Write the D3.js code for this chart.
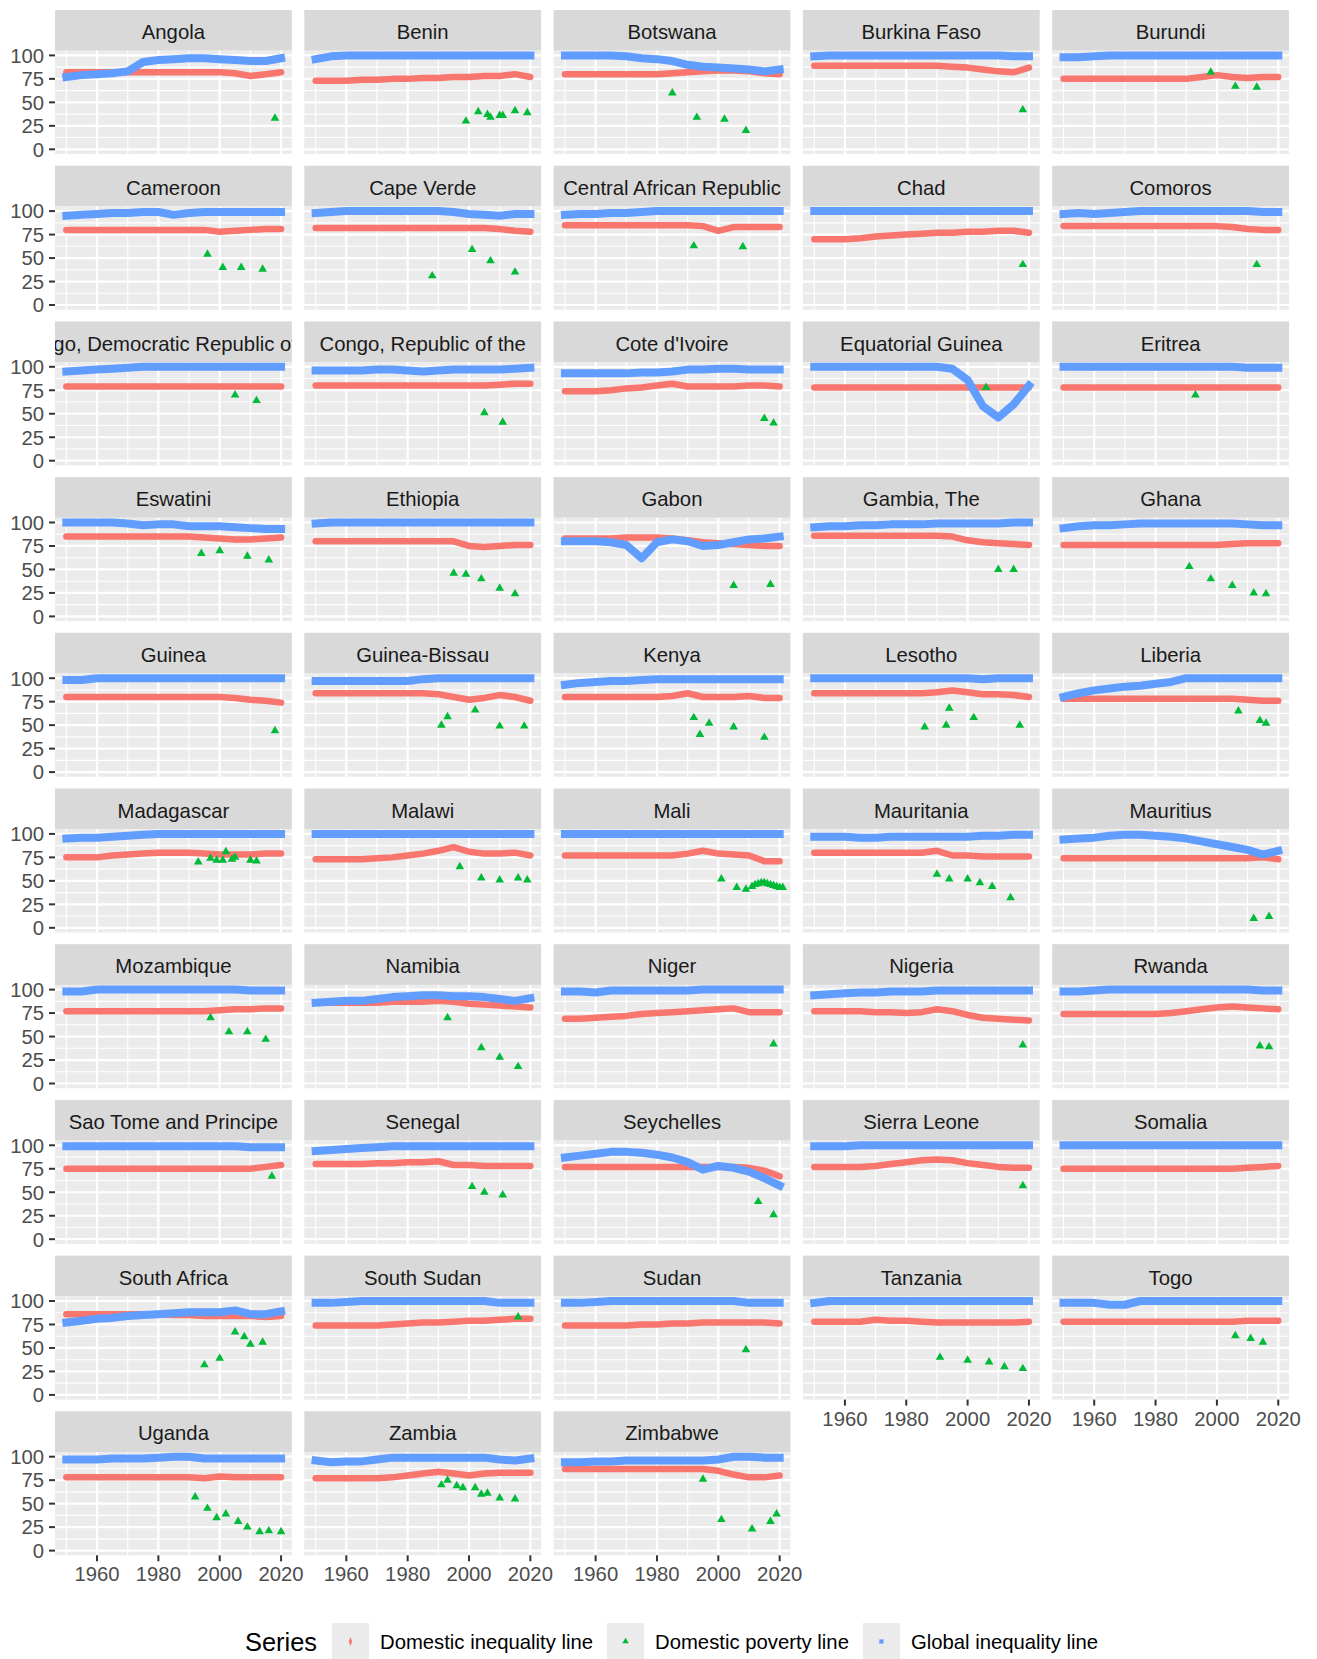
<!DOCTYPE html>
<html>
<head>
<meta charset="utf-8">
<script src="https://cdn.jsdelivr.net/npm/d3@7"></script>
<style>
  body { margin: 0; background: #fff; }
  svg text { font-family: "Liberation Sans", Arial, sans-serif; }
</style>
</head>
<body>
<div id="chart"></div>
<script>
// sampled every 5 years
var years = [1950,1955,1960,1965,1970,1975,1980,1985,1990,1995,2000,2005,2010,2015,2020];

var countries = ["Angola","Benin","Botswana","Burkina Faso","Burundi",
  "Cameroon","Cape Verde","Central African Republic","Chad","Comoros",
  "Congo, Democratic Republic of the","Congo, Republic of the","Cote d'Ivoire","Equatorial Guinea","Eritrea",
  "Eswatini","Ethiopia","Gabon","Gambia, The","Ghana",
  "Guinea","Guinea-Bissau","Kenya","Lesotho","Liberia",
  "Madagascar","Malawi","Mali","Mauritania","Mauritius",
  "Mozambique","Namibia","Niger","Nigeria","Rwanda",
  "Sao Tome and Principe","Senegal","Seychelles","Sierra Leone","Somalia",
  "South Africa","South Sudan","Sudan","Tanzania","Togo",
  "Uganda","Zambia","Zimbabwe"];

// Global inequality line, one row per country
var globalIneq = [
  [77,79,80,81,83,93,95,96,97,97,96,95,94,94,97],
  [96,99,100,100,100,100,100,100,100,100,100,100,100,100,100],
  [100,100,100,100,99,97,96,94,90,88,87,86,85,83,85],
  [99,100,100,100,100,100,100,100,100,100,100,100,100,99,99],
  [98,98,99,100,100,100,100,100,100,100,100,100,100,100,100],
  [95,96,97,98,98,99,99,96,98,99,99,99,99,99,99],
  [98,99,100,100,100,100,100,100,100,99,97,96,95,97,97],
  [96,97,97,98,98,99,100,100,100,100,100,100,100,100,100],
  [100,100,100,100,100,100,100,100,100,100,100,100,100,100,100],
  [97,98,97,98,99,100,100,100,100,100,100,100,100,99,99],
  [95,96,97,98,99,100,100,100,100,100,100,100,100,100,100],
  [96,96,96,96,97,97,96,95,96,97,97,97,97,98,99],
  [93,93,93,93,93,94,94,95,97,97,98,98,97,97,97],
  [100,100,100,100,100,100,100,100,100,98,86,58,46,60,80],
  [100,100,100,100,100,100,100,100,100,100,100,100,99,99,99],
  [100,100,100,100,99,97,98,98,96,96,96,95,94,93,93],
  [99,100,100,100,100,100,100,100,100,100,100,100,100,100,100],
  [80,80,80,79,76,62,79,82,80,75,76,79,82,83,85],
  [95,96,96,97,97,98,98,98,99,99,99,99,99,100,100],
  [94,96,97,97,98,99,99,99,99,99,99,99,98,97,97],
  [98,98,100,100,100,100,100,100,100,100,100,100,100,100,100],
  [97,97,97,97,97,97,97,99,100,100,100,100,100,100,100],
  [93,95,96,97,97,98,99,99,99,99,99,99,99,99,99],
  [100,100,100,100,100,100,100,100,100,100,100,99,100,100,100],
  [80,84,87,89,91,92,94,96,100,100,100,100,100,100,100],
  [95,96,96,97,98,99,100,100,100,100,100,100,100,100,100],
  [100,100,100,100,100,100,100,100,100,100,100,100,100,100,100],
  [100,100,100,100,100,100,100,100,100,100,100,100,100,100,100],
  [97,97,97,96,96,97,97,97,97,97,97,98,98,99,99],
  [94,95,96,98,99,99,98,97,95,92,89,86,83,78,82],
  [98,98,100,100,100,100,100,100,100,100,100,100,99,99,99],
  [86,87,88,88,90,92,93,94,94,93,93,92,90,88,91],
  [98,98,97,99,99,99,99,99,99,100,100,100,100,100,100],
  [94,95,96,97,97,98,98,98,99,99,99,99,99,99,99],
  [98,98,99,100,100,100,100,100,100,100,100,100,100,99,99],
  [99,99,99,99,99,99,99,99,99,99,99,99,98,98,98],
  [94,95,96,97,98,99,99,99,99,99,99,99,99,99,99],
  [87,89,91,93,93,92,90,87,82,74,78,76,72,65,57],
  [99,99,99,100,100,100,100,100,100,100,100,100,100,100,100],
  [100,100,100,100,100,100,100,100,100,100,100,100,100,100,100],
  [77,79,81,82,84,85,86,87,88,88,88,90,86,86,89],
  [98,98,99,100,100,100,100,100,100,100,100,100,98,98,98],
  [98,98,99,100,100,100,100,100,100,100,100,100,98,98,98],
  [98,100,100,100,100,100,100,100,100,100,100,100,100,100,100],
  [98,98,98,96,96,100,100,100,100,100,100,100,100,100,100],
  [97,97,97,98,98,98,99,100,100,98,98,98,98,98,98],
  [96,94,95,95,97,99,99,99,99,99,99,99,97,96,98],
  [94,94,95,95,96,96,96,96,96,96,97,100,100,99,99]
];

// Domestic inequality line
var domesticIneq = [
  [82,82,82,82,82,82,82,82,82,82,82,81,78,80,82],
  [73,73,73,74,74,75,75,76,76,77,77,78,78,80,77],
  [80,80,80,80,80,80,80,81,82,83,84,84,83,81,80],
  [89,89,89,89,89,89,89,89,89,88,87,85,83,82,87],
  [75,75,75,75,75,75,75,75,75,77,79,77,76,77,77],
  [80,80,80,80,80,80,80,80,80,80,78,79,80,81,81],
  [82,82,82,82,82,82,82,82,82,82,82,82,81,79,78],
  [85,85,85,85,85,85,85,85,85,84,79,83,83,83,83],
  [70,70,70,71,73,74,75,76,77,77,78,78,79,79,77],
  [84,84,84,84,84,84,84,84,84,84,84,83,81,80,80],
  [79,79,79,79,79,79,79,79,79,79,79,79,79,79,79],
  [80,80,80,80,80,80,80,80,80,80,80,80,81,82,82],
  [74,74,74,75,77,78,80,82,79,79,79,79,80,80,79],
  [78,78,78,78,78,78,78,78,78,78,78,78,78,78,78],
  [78,78,78,78,78,78,78,78,78,78,78,78,78,78,78],
  [85,85,85,85,85,85,85,85,85,84,83,82,82,83,84],
  [80,80,80,80,80,80,80,80,80,80,75,74,75,76,76],
  [83,83,83,83,84,84,84,83,81,79,78,77,76,75,75],
  [86,86,86,86,86,86,86,86,86,85,81,79,78,77,76],
  [76,76,76,76,76,76,76,76,76,76,76,77,78,78,78],
  [80,80,80,80,80,80,80,80,80,80,80,79,77,76,74],
  [84,84,84,84,84,84,84,84,83,80,77,79,82,80,76],
  [80,80,80,80,80,80,80,81,84,80,80,80,81,79,79],
  [84,84,84,84,84,84,84,84,85,87,85,83,83,82,80],
  [78,78,78,78,78,78,78,78,78,78,78,78,77,76,76],
  [75,75,75,77,78,79,80,80,80,79,78,78,78,79,79],
  [73,73,73,73,74,75,77,79,82,86,81,79,79,80,77],
  [77,77,77,77,77,77,77,77,79,82,79,78,77,71,71],
  [80,80,80,80,80,80,80,80,82,77,77,76,76,76,76],
  [74,74,74,74,74,74,74,74,74,74,74,74,74,75,73],
  [77,77,77,77,77,77,77,77,77,77,78,79,79,80,80],
  [86,86,86,86,86,87,87,87,88,87,85,84,83,82,81],
  [69,69,70,71,72,74,75,76,77,78,79,80,76,76,76],
  [77,77,77,77,76,76,75,76,79,77,73,70,69,68,67],
  [74,74,74,74,74,74,74,75,77,79,81,82,81,80,79],
  [75,75,75,75,75,75,75,75,75,75,75,75,75,77,79],
  [80,80,80,80,81,81,82,82,83,79,79,78,78,78,78],
  [77,77,77,77,77,77,77,77,77,77,77,77,76,73,67],
  [77,77,77,77,78,80,82,84,85,84,81,79,77,76,76],
  [75,75,75,75,75,75,75,75,75,75,75,75,76,77,78],
  [86,86,86,86,86,86,86,85,85,84,84,84,84,83,84],
  [74,74,74,74,74,75,76,77,77,78,79,79,80,81,81],
  [74,74,74,74,74,75,75,76,76,77,77,77,77,77,76],
  [78,78,78,78,80,79,79,78,77,77,77,77,77,77,78],
  [78,78,78,78,78,78,78,78,78,78,78,78,79,79,79],
  [78,78,78,78,78,78,78,78,78,77,79,78,78,78,78],
  [77,77,77,77,77,78,80,82,84,82,80,82,83,83,83],
  [87,87,87,87,87,87,87,87,87,87,85,81,78,78,80]
];

// Domestic poverty line: [year, value] survey points
var povertyPoints = [
  [[2018,33]],
  [[1999,30],[2003,40],[2006,37],[2007,34],[2010,36],[2011,36],[2015,41],[2019,39]],
  [[1985,60],[1993,34],[2002,32],[2009,20]],
  [[2018,42]],
  [[1998,82],[2006,67],[2013,66]],
  [[1996,54],[2001,40],[2007,40],[2014,38]],
  [[1988,31],[2001,59],[2007,47],[2015,35]],
  [[1992,63],[2008,62]],
  [[2018,43]],
  [[2013,43]],
  [[2005,70],[2012,64]],
  [[2005,51],[2011,41]],
  [[2015,45],[2018,40]],
  [[2006,78]],
  [[1993,70]],
  [[1994,67],[2000,70],[2009,64],[2016,60]],
  [[1995,46],[1999,45],[2004,40],[2010,30],[2015,24]],
  [[2005,33],[2017,34]],
  [[2010,50],[2015,50]],
  [[1991,53],[1998,40],[2005,33],[2012,25],[2016,24]],
  [[2018,44]],
  [[1991,50],[1993,59],[2002,66],[2010,49],[2018,49]],
  [[1992,58],[1994,40],[1997,52],[2005,48],[2015,37]],
  [[1986,48],[1993,50],[1994,68],[2002,58],[2017,50]],
  [[2007,65],[2014,55],[2016,52]],
  [[1993,70],[1997,74],[1999,72],[2001,72],[2002,81],[2004,73],[2005,75],[2010,72],[2012,71]],
  [[1997,65],[2004,53],[2010,51],[2016,53],[2019,51]],
  [[2001,52],[2006,43],[2009,41],[2011,44],[2012,46],[2013,47],[2014,48],[2015,48],[2016,47],[2017,46],[2018,45],[2019,44],[2020,43],[2021,43]],
  [[1990,57],[1994,52],[2000,52],[2004,48],[2008,44],[2014,32]],
  [[2012,10],[2017,12]],
  [[1997,70],[2003,55],[2009,55],[2015,47]],
  [[1993,70],[2004,38],[2010,28],[2016,18]],
  [[2018,42]],
  [[2018,41]],
  [[2014,40],[2017,39]],
  [[2017,67]],
  [[2001,56],[2005,50],[2011,47]],
  [[2013,40],[2018,26]],
  [[2018,57]],
  [],
  [[1995,32],[2000,39],[2005,67],[2008,62],[2010,54],[2014,56]],
  [[2016,83]],
  [[2009,48]],
  [[1991,40],[2000,37],[2007,35],[2012,30],[2018,28]],
  [[2006,63],[2011,60],[2015,56]],
  [[1992,57],[1996,45],[1999,35],[2002,39],[2006,31],[2009,25],[2013,20],[2016,21],[2020,20]],
  [[1991,70],[1993,75],[1996,69],[1998,67],[2002,67],[2004,60],[2006,61],[2010,56],[2015,55]],
  [[1995,76],[2001,33],[2011,23],[2017,31],[2019,39]]
];

var yTicks = [0,25,50,75,100];
var yMinor = [12.5,37.5,62.5,87.5];
var xTicks = [1960,1980,2000,2020];
var xMinor = [1950,1970,1990,2010];
var seriesNames = ["Domestic inequality line","Domestic poverty line","Global inequality line"];
var seriesColors = ["#F8766D","#00BA38","#619CFF"];

var W = 1317, H = 1659;
var left = 55, top0 = 10;
var panelW = 236.8, colStep = 249.3, rowStep = 155.7;
var stripH = 40.7, panelH = 103.3;
var nCols = 5;
var fs = 20.3;

var svg = d3.select("#chart").append("svg")
  .attr("width", W)
  .attr("height", H);

svg.append("rect").attr("width", W).attr("height", H).attr("fill", "white");

var x = d3.scaleLinear().domain([1946.3, 2023.5]).range([0, panelW]);
var y = d3.scaleLinear().domain([-5, 105]).range([panelH, 0]);

var line = d3.line()
  .x(function(d){ return x(d[0]); })
  .y(function(d){ return y(d[1]); });

countries.forEach(function(name, i) {
  var col = i % nCols, row = Math.floor(i / nCols);
  var g = svg.append("g")
    .attr("transform", "translate(" + (left + col * colStep) + "," + (top0 + row * rowStep) + ")");

  // strip
  g.append("clipPath").attr("id", "sclip" + i)
    .append("rect").attr("width", panelW).attr("height", stripH);
  g.append("rect")
    .attr("width", panelW).attr("height", stripH)
    .attr("fill", "#D9D9D9");
  g.append("text")
    .attr("clip-path", "url(#sclip" + i + ")")
    .attr("x", panelW / 2).attr("y", stripH / 2 + 1.5)
    .attr("dy", "0.36em")
    .attr("text-anchor", "middle")
    .attr("font-size", fs)
    .attr("fill", "#1A1A1A")
    .text(name);

  // panel
  var p = g.append("g").attr("transform", "translate(0," + stripH + ")");
  p.append("clipPath").attr("id", "pclip" + i)
    .append("rect").attr("width", panelW).attr("height", panelH);
  p.append("rect")
    .attr("width", panelW).attr("height", panelH)
    .attr("fill", "#EBEBEB");

  p.selectAll(".ymin").data(yMinor).enter().append("line")
    .attr("x1", 0).attr("x2", panelW)
    .attr("y1", function(d){ return y(d); }).attr("y2", function(d){ return y(d); })
    .attr("stroke", "white").attr("stroke-width", 1.1);
  p.selectAll(".xmin").data(xMinor).enter().append("line")
    .attr("y1", 0).attr("y2", panelH)
    .attr("x1", function(d){ return x(d); }).attr("x2", function(d){ return x(d); })
    .attr("stroke", "white").attr("stroke-width", 1.1);
  p.selectAll(".ymaj").data(yTicks).enter().append("line")
    .attr("x1", 0).attr("x2", panelW)
    .attr("y1", function(d){ return y(d); }).attr("y2", function(d){ return y(d); })
    .attr("stroke", "white").attr("stroke-width", 2.2);
  p.selectAll(".xmaj").data(xTicks).enter().append("line")
    .attr("y1", 0).attr("y2", panelH)
    .attr("x1", function(d){ return x(d); }).attr("x2", function(d){ return x(d); })
    .attr("stroke", "white").attr("stroke-width", 2.2);

  var marks = p.append("g").attr("clip-path", "url(#pclip" + i + ")");

  var dom = years.map(function(yr, k){ return [yr, domesticIneq[i][k]]; });
  var glob = years.map(function(yr, k){ return [yr, globalIneq[i][k]]; });

  marks.append("path")
    .attr("d", line(dom))
    .attr("fill", "none")
    .attr("stroke", seriesColors[0])
    .attr("stroke-width", 6.5)
    .attr("stroke-linecap", "round")
    .attr("stroke-linejoin", "round");

  marks.selectAll(".pov").data(povertyPoints[i]).enter().append("path")
    .attr("d", d3.symbol().type(d3.symbolTriangle).size(32))
    .attr("transform", function(d){ return "translate(" + x(d[0]) + "," + y(d[1]) + ")"; })
    .attr("fill", seriesColors[1]);

  marks.append("path")
    .attr("d", line(glob))
    .attr("fill", "none")
    .attr("stroke", seriesColors[2])
    .attr("stroke-width", 8)
    .attr("stroke-linecap", "square")
    .attr("stroke-linejoin", "round");

  // y axis on first column
  if (col === 0) {
    p.selectAll(".yt").data(yTicks).enter().append("line")
      .attr("x1", -6).attr("x2", 0)
      .attr("y1", function(d){ return y(d); }).attr("y2", function(d){ return y(d); })
      .attr("stroke", "#333333").attr("stroke-width", 2);
    p.selectAll(".yl").data(yTicks).enter().append("text")
      .attr("x", -11)
      .attr("y", function(d){ return y(d); })
      .attr("dy", "0.36em")
      .attr("text-anchor", "end")
      .attr("font-size", fs)
      .attr("fill", "#4D4D4D")
      .text(function(d){ return d; });
  }

  // x axis where no panel below
  if (i + nCols >= countries.length) {
    p.selectAll(".xt").data(xTicks).enter().append("line")
      .attr("y1", panelH).attr("y2", panelH + 6)
      .attr("x1", function(d){ return x(d); }).attr("x2", function(d){ return x(d); })
      .attr("stroke", "#333333").attr("stroke-width", 2);
    p.selectAll(".xl").data(xTicks).enter().append("text")
      .attr("x", function(d){ return x(d); })
      .attr("y", panelH + 26)
      .attr("text-anchor", "middle")
      .attr("font-size", fs)
      .attr("fill", "#4D4D4D")
      .text(function(d){ return d; });
  }
});

// legend
var leg = svg.append("g").attr("transform", "translate(245,1642)");
var title = leg.append("text")
  .attr("x", 0).attr("y", 0).attr("dy", "0.36em")
  .attr("font-size", 25.4)
  .attr("fill", "black")
  .text("Series");
var cx = title.node().getComputedTextLength() + 15;
var shapes = [d3.symbolDiamond, d3.symbolTriangle, d3.symbolSquare];
seriesNames.forEach(function(s, k) {
  leg.append("rect")
    .attr("x", cx).attr("y", -19)
    .attr("width", 37).attr("height", 37)
    .attr("fill", "#EBEBEB");
  leg.append("path")
    .attr("d", d3.symbol().type(shapes[k]).size(k === 0 ? 16 : 18))
    .attr("transform", "translate(" + (cx + 18.5) + ",-0.5)" + (k === 0 ? " scale(0.8,1.2)" : ""))
    .attr("fill", seriesColors[k]);
  var t = leg.append("text")
    .attr("x", cx + 48).attr("y", 0).attr("dy", "0.36em")
    .attr("font-size", fs)
    .attr("fill", "black")
    .text(s);
  cx += 48 + t.node().getComputedTextLength() + 14;
});
</script>
</body>
</html>
